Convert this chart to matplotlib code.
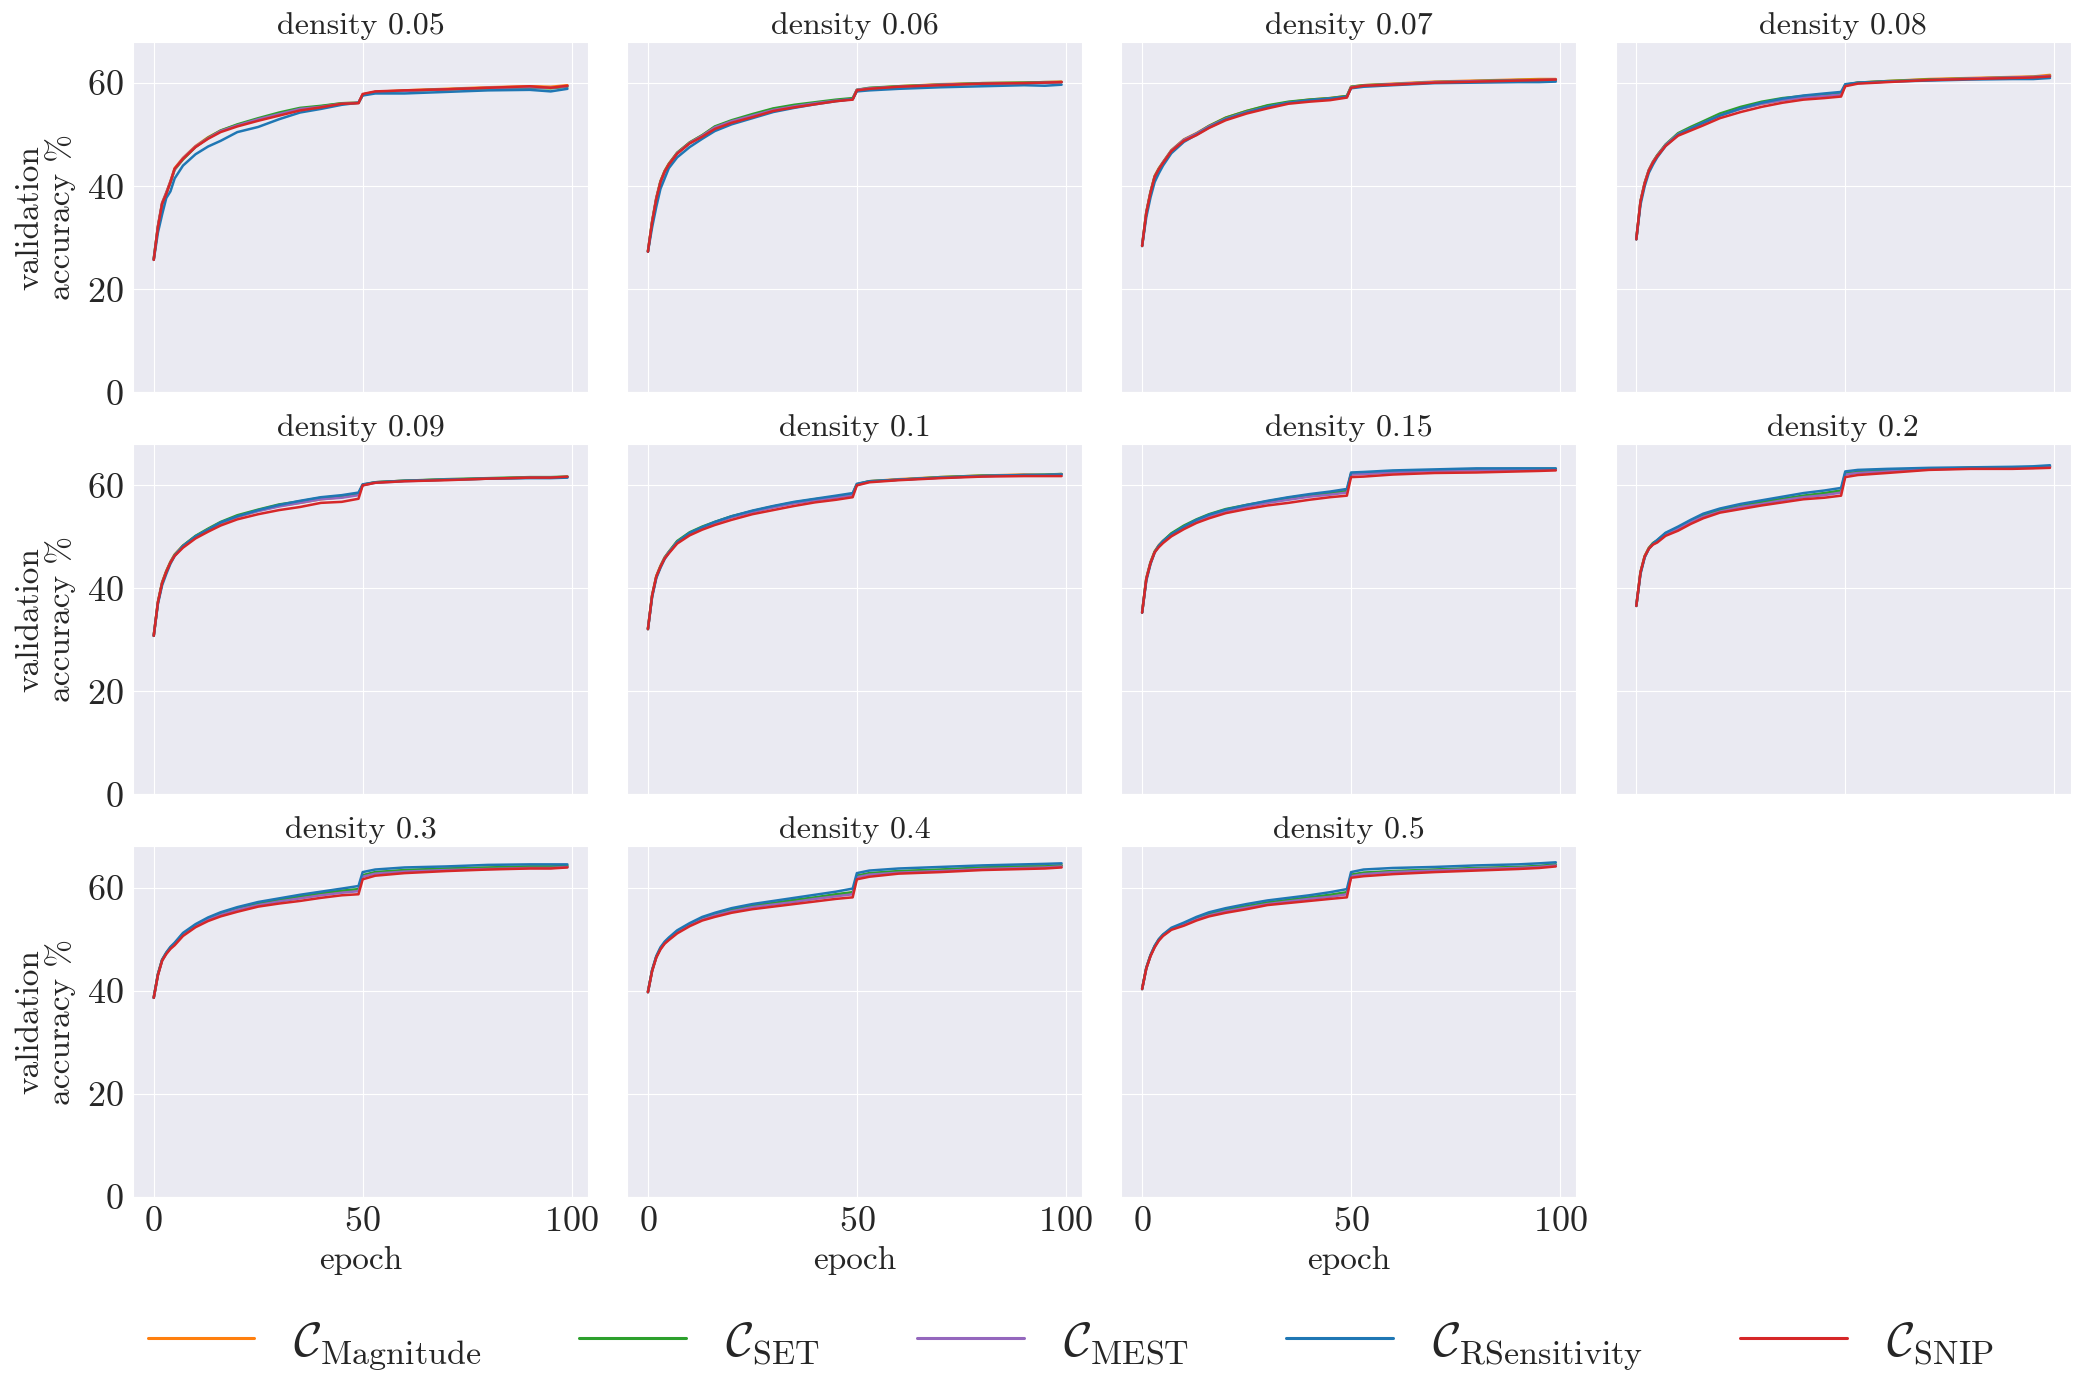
import matplotlib
matplotlib.use("Agg")
import matplotlib.pyplot as plt
import seaborn as sns
import numpy as np

# densities shown in the grid (one panel each)
densities = ['0.05', '0.06', '0.07', '0.08', '0.09', '0.1', '0.15', '0.2', '0.3', '0.4', '0.5']

epochs = [0, 1, 2, 3, 4, 5, 7, 10, 13, 16, 20, 25, 30, 35, 40, 45, 49, 50, 53, 60, 70, 80, 90, 95, 99]

# validation accuracy %, one row per density
magnitude = [
    [25.8, 32.3, 36.8, 38.8, 41.0, 43.5, 45.5, 47.8, 49.5, 50.8, 51.9, 53.0, 54.0, 55.0, 55.5, 56.1, 56.2, 57.8, 58.3, 58.6, 58.9, 59.2, 59.4, 59.3, 59.6],
    [27.4, 33.2, 37.8, 41.0, 43.0, 44.4, 46.5, 48.5, 49.9, 51.5, 52.6, 53.8, 55.0, 55.6, 56.1, 56.6, 56.9, 58.7, 59.0, 59.4, 59.8, 60.0, 60.1, 60.2, 60.3],
    [28.5, 35.0, 38.9, 42.0, 43.5, 44.7, 47.0, 49.1, 50.3, 51.7, 53.3, 54.6, 55.6, 56.3, 56.8, 57.1, 57.5, 59.3, 59.6, 59.9, 60.3, 60.5, 60.7, 60.8, 60.8],
    [29.8, 37.1, 40.7, 43.2, 44.8, 46.0, 48.0, 50.1, 51.3, 52.4, 53.8, 55.1, 56.0, 56.7, 57.3, 57.6, 57.8, 59.6, 60.1, 60.4, 60.8, 61.0, 61.2, 61.3, 61.6],
    [30.9, 37.4, 41.2, 43.4, 45.2, 46.6, 48.3, 50.1, 51.4, 52.6, 53.9, 55.1, 56.0, 56.6, 57.3, 57.7, 58.2, 60.1, 60.6, 60.9, 61.1, 61.3, 61.5, 61.5, 61.6],
    [32.2, 38.7, 42.4, 44.4, 46.0, 47.1, 49.1, 50.7, 51.8, 52.8, 53.9, 55.0, 55.9, 56.6, 57.3, 57.8, 58.3, 60.2, 60.8, 61.2, 61.6, 61.9, 62.1, 62.0, 62.2],
    [35.4, 42.0, 45.1, 47.2, 48.4, 49.2, 50.6, 52.0, 53.2, 54.2, 55.2, 56.0, 56.8, 57.4, 58.0, 58.4, 58.8, 62.2, 62.3, 62.6, 62.9, 63.0, 63.1, 63.1, 63.1],
    [36.7, 43.2, 46.3, 47.9, 48.8, 49.3, 50.6, 51.7, 53.0, 54.1, 55.1, 55.9, 56.6, 57.3, 57.9, 58.4, 58.9, 62.2, 62.5, 62.8, 63.2, 63.3, 63.4, 63.5, 63.6],
    [38.7, 43.2, 46.0, 47.3, 48.4, 49.1, 51.0, 52.7, 54.0, 54.9, 55.9, 56.8, 57.5, 58.1, 58.7, 59.2, 59.5, 62.3, 62.9, 63.3, 63.6, 63.8, 64.0, 64.0, 64.1],
    [39.8, 43.9, 46.6, 48.2, 49.3, 50.1, 51.5, 52.9, 54.0, 54.8, 55.6, 56.4, 56.9, 57.5, 58.0, 58.6, 59.0, 62.2, 62.7, 63.1, 63.4, 63.8, 64.0, 64.1, 64.3],
    [40.4, 44.4, 46.8, 48.6, 49.9, 50.8, 52.0, 52.9, 53.9, 54.8, 55.6, 56.3, 57.0, 57.5, 58.0, 58.4, 58.9, 62.4, 62.8, 63.1, 63.4, 63.7, 63.9, 64.1, 64.4],
]

set_vals = [
    [25.9, 32.1, 36.5, 38.6, 40.7, 43.2, 45.2, 47.6, 49.4, 50.8, 52.0, 53.2, 54.3, 55.2, 55.6, 56.1, 56.2, 57.7, 58.2, 58.5, 58.8, 59.0, 59.1, 59.0, 59.3],
    [27.3, 33.1, 37.6, 40.9, 42.9, 44.3, 46.5, 48.5, 49.9, 51.6, 52.8, 54.0, 55.1, 55.8, 56.3, 56.8, 57.1, 58.7, 59.1, 59.4, 59.7, 60.0, 60.1, 60.2, 60.2],
    [28.4, 34.9, 38.8, 41.9, 43.4, 44.6, 46.9, 49.0, 50.2, 51.7, 53.3, 54.6, 55.7, 56.4, 56.8, 57.1, 57.5, 59.3, 59.6, 59.8, 60.2, 60.4, 60.6, 60.6, 60.6],
    [29.7, 37.0, 40.6, 43.1, 44.7, 46.0, 48.1, 50.3, 51.5, 52.6, 54.1, 55.4, 56.4, 57.1, 57.5, 57.8, 58.0, 59.7, 60.1, 60.4, 60.7, 60.9, 61.1, 61.2, 61.4],
    [30.8, 37.3, 41.1, 43.3, 45.1, 46.5, 48.3, 50.2, 51.6, 52.9, 54.2, 55.3, 56.3, 56.9, 57.6, 57.9, 58.3, 60.1, 60.6, 60.9, 61.2, 61.4, 61.6, 61.6, 61.7],
    [32.1, 38.6, 42.3, 44.3, 46.0, 47.1, 49.2, 50.9, 52.0, 52.9, 54.0, 55.0, 55.9, 56.7, 57.3, 57.8, 58.3, 60.2, 60.8, 61.1, 61.6, 61.9, 62.0, 62.1, 62.2],
    [35.3, 41.9, 45.0, 47.1, 48.3, 49.2, 50.7, 52.2, 53.4, 54.4, 55.4, 56.2, 56.9, 57.6, 58.1, 58.5, 58.9, 62.2, 62.4, 62.7, 62.9, 63.1, 63.2, 63.2, 63.2],
    [36.6, 43.1, 46.2, 47.8, 48.8, 49.3, 50.7, 51.8, 53.1, 54.2, 55.2, 56.0, 56.8, 57.4, 58.0, 58.5, 59.0, 62.3, 62.6, 62.9, 63.2, 63.4, 63.5, 63.5, 63.7],
    [38.6, 43.1, 45.9, 47.3, 48.3, 49.1, 51.0, 52.7, 54.0, 55.0, 55.9, 56.9, 57.6, 58.3, 58.9, 59.4, 59.7, 62.4, 63.0, 63.4, 63.7, 63.9, 64.1, 64.1, 64.2],
    [39.7, 43.9, 46.5, 48.2, 49.3, 50.1, 51.5, 52.9, 54.0, 54.8, 55.7, 56.5, 57.0, 57.6, 58.1, 58.7, 59.1, 62.3, 62.8, 63.2, 63.5, 63.9, 64.1, 64.1, 64.3],
    [40.3, 44.4, 46.8, 48.6, 49.9, 50.8, 52.0, 53.0, 54.0, 54.9, 55.7, 56.4, 57.1, 57.6, 58.1, 58.6, 59.1, 62.5, 62.9, 63.2, 63.5, 63.8, 64.0, 64.2, 64.5],
]

mest = [
    [25.8, 32.2, 36.7, 38.7, 40.9, 43.3, 45.4, 47.7, 49.3, 50.7, 51.8, 53.0, 54.0, 55.0, 55.4, 56.0, 56.2, 57.8, 58.3, 58.5, 58.8, 59.1, 59.2, 59.1, 59.4],
    [27.3, 33.0, 37.6, 40.8, 42.8, 44.2, 46.4, 48.4, 49.8, 51.4, 52.6, 53.7, 54.8, 55.5, 56.1, 56.6, 56.9, 58.7, 59.0, 59.3, 59.7, 59.9, 60.0, 60.1, 60.2],
    [28.4, 34.8, 38.7, 41.8, 43.3, 44.6, 46.9, 49.0, 50.2, 51.6, 53.1, 54.4, 55.4, 56.2, 56.6, 57.0, 57.3, 59.2, 59.5, 59.8, 60.2, 60.4, 60.5, 60.6, 60.7],
    [29.7, 37.0, 40.6, 43.1, 44.7, 45.9, 48.0, 50.1, 51.2, 52.3, 53.7, 55.0, 56.0, 56.7, 57.2, 57.5, 57.8, 59.6, 60.0, 60.3, 60.6, 60.9, 61.1, 61.2, 61.4],
    [30.8, 37.2, 41.0, 43.2, 45.0, 46.4, 48.2, 50.0, 51.4, 52.7, 53.9, 55.0, 55.9, 56.6, 57.3, 57.6, 58.1, 60.0, 60.5, 60.8, 61.1, 61.3, 61.5, 61.5, 61.6],
    [32.1, 38.5, 42.2, 44.2, 45.9, 47.0, 49.0, 50.6, 51.7, 52.7, 53.8, 54.8, 55.7, 56.5, 57.1, 57.6, 58.1, 60.1, 60.7, 61.1, 61.5, 61.8, 62.0, 62.0, 62.1],
    [35.3, 41.8, 44.9, 47.0, 48.2, 49.0, 50.4, 51.9, 53.0, 54.0, 55.0, 55.8, 56.6, 57.2, 57.8, 58.2, 58.6, 62.1, 62.2, 62.5, 62.8, 62.9, 63.0, 63.0, 63.1],
    [36.6, 43.0, 46.1, 47.7, 48.6, 49.1, 50.5, 51.6, 52.9, 53.9, 54.9, 55.8, 56.4, 57.1, 57.7, 58.1, 58.6, 62.1, 62.4, 62.7, 63.1, 63.3, 63.4, 63.4, 63.6],
    [38.6, 43.0, 45.8, 47.2, 48.2, 49.0, 50.8, 52.5, 53.8, 54.7, 55.7, 56.6, 57.3, 57.9, 58.5, 59.0, 59.3, 62.1, 62.7, 63.1, 63.4, 63.6, 63.8, 63.8, 64.0],
    [39.7, 43.8, 46.5, 48.1, 49.2, 50.0, 51.3, 52.7, 53.8, 54.6, 55.4, 56.2, 56.7, 57.2, 57.8, 58.3, 58.7, 62.0, 62.5, 62.9, 63.2, 63.6, 63.8, 63.9, 64.1],
    [40.3, 44.3, 46.7, 48.5, 49.8, 50.7, 51.9, 52.8, 53.8, 54.6, 55.4, 56.1, 56.8, 57.3, 57.8, 58.2, 58.7, 62.2, 62.6, 63.0, 63.3, 63.6, 63.8, 64.0, 64.3],
]

rsensitivity = [
    [25.7, 31.0, 34.5, 37.7, 39.0, 41.5, 44.0, 46.2, 47.7, 48.8, 50.5, 51.5, 53.0, 54.3, 55.0, 55.8, 56.2, 57.6, 58.0, 58.0, 58.3, 58.6, 58.7, 58.4, 58.9],
    [27.3, 32.0, 36.0, 39.5, 41.5, 43.5, 45.6, 47.6, 49.2, 50.7, 52.0, 53.2, 54.4, 55.2, 55.9, 56.5, 56.9, 58.4, 58.6, 58.9, 59.2, 59.4, 59.6, 59.5, 59.7],
    [28.4, 34.0, 37.8, 40.8, 42.5, 44.0, 46.4, 48.6, 50.0, 51.4, 53.0, 54.3, 55.4, 56.2, 56.7, 57.0, 57.4, 59.0, 59.3, 59.6, 60.0, 60.1, 60.2, 60.2, 60.3],
    [29.7, 36.4, 40.0, 42.6, 44.2, 45.6, 47.8, 50.0, 51.2, 52.3, 53.7, 55.1, 56.2, 57.0, 57.6, 58.0, 58.3, 59.8, 60.1, 60.3, 60.5, 60.7, 60.8, 60.8, 61.0],
    [30.8, 37.0, 40.6, 42.8, 44.8, 46.3, 48.2, 50.1, 51.4, 52.8, 54.0, 55.2, 56.2, 57.0, 57.7, 58.1, 58.6, 60.2, 60.6, 60.9, 61.1, 61.3, 61.4, 61.4, 61.5],
    [32.1, 38.3, 42.0, 44.0, 45.7, 46.9, 49.0, 50.8, 51.9, 52.9, 54.0, 55.1, 56.0, 56.8, 57.4, 58.0, 58.5, 60.3, 60.8, 61.1, 61.5, 61.8, 62.0, 62.0, 62.1],
    [35.3, 41.5, 44.7, 47.0, 48.3, 49.2, 50.5, 52.0, 53.3, 54.3, 55.3, 56.2, 57.0, 57.7, 58.3, 58.8, 59.3, 62.5, 62.6, 62.9, 63.1, 63.3, 63.3, 63.3, 63.3],
    [36.6, 42.8, 46.0, 47.7, 48.7, 49.4, 50.8, 52.0, 53.3, 54.5, 55.5, 56.4, 57.1, 57.8, 58.5, 59.0, 59.5, 62.7, 63.0, 63.2, 63.4, 63.5, 63.6, 63.7, 63.9],
    [38.6, 43.2, 46.0, 47.4, 48.5, 49.3, 51.2, 52.9, 54.2, 55.2, 56.2, 57.2, 57.9, 58.6, 59.2, 59.8, 60.3, 63.0, 63.5, 63.9, 64.1, 64.4, 64.5, 64.5, 64.5],
    [39.7, 44.0, 46.7, 48.4, 49.5, 50.3, 51.7, 53.1, 54.3, 55.1, 56.0, 56.8, 57.4, 58.0, 58.6, 59.2, 59.8, 62.8, 63.3, 63.7, 64.0, 64.3, 64.5, 64.6, 64.7],
    [40.3, 44.4, 46.9, 48.7, 50.0, 50.9, 52.2, 53.2, 54.3, 55.2, 56.0, 56.8, 57.5, 58.0, 58.5, 59.1, 59.7, 63.0, 63.5, 63.8, 64.0, 64.3, 64.5, 64.7, 64.9],
]

snip = [
    [25.7, 32.0, 36.6, 38.5, 40.8, 43.4, 45.3, 47.6, 49.2, 50.5, 51.6, 52.7, 53.7, 54.7, 55.3, 56.0, 56.1, 57.9, 58.4, 58.6, 58.8, 59.1, 59.4, 59.1, 59.5],
    [27.3, 33.0, 37.5, 40.8, 42.8, 44.2, 46.3, 48.3, 49.6, 51.1, 52.3, 53.4, 54.6, 55.3, 55.9, 56.5, 56.8, 58.6, 58.9, 59.3, 59.6, 59.9, 60.0, 60.1, 60.2],
    [28.4, 34.8, 38.7, 41.8, 43.3, 44.5, 46.8, 48.8, 49.9, 51.3, 52.8, 54.1, 55.1, 56.0, 56.4, 56.7, 57.2, 59.1, 59.5, 59.7, 60.1, 60.3, 60.5, 60.6, 60.7],
    [29.7, 37.0, 40.5, 43.0, 44.6, 45.8, 47.8, 49.8, 50.8, 51.8, 53.2, 54.4, 55.4, 56.2, 56.8, 57.1, 57.4, 59.4, 59.9, 60.2, 60.6, 60.8, 61.0, 61.1, 61.3],
    [30.8, 37.3, 41.0, 43.2, 45.0, 46.3, 47.9, 49.7, 51.0, 52.2, 53.4, 54.4, 55.2, 55.8, 56.6, 56.8, 57.4, 60.0, 60.5, 60.8, 61.0, 61.3, 61.5, 61.5, 61.7],
    [32.1, 38.6, 42.3, 44.2, 45.8, 46.8, 48.7, 50.3, 51.4, 52.3, 53.3, 54.4, 55.2, 56.0, 56.7, 57.2, 57.7, 60.0, 60.6, 61.0, 61.4, 61.7, 61.8, 61.8, 61.8],
    [35.3, 41.8, 44.9, 47.0, 48.0, 48.8, 50.1, 51.5, 52.7, 53.6, 54.6, 55.4, 56.1, 56.6, 57.2, 57.7, 58.0, 61.6, 61.7, 62.1, 62.4, 62.5, 62.7, 62.8, 62.9],
    [36.6, 43.1, 46.2, 47.7, 48.5, 48.9, 50.2, 51.2, 52.5, 53.6, 54.7, 55.4, 56.1, 56.7, 57.3, 57.6, 58.0, 61.6, 62.0, 62.4, 63.0, 63.2, 63.2, 63.3, 63.4],
    [38.6, 43.0, 45.8, 47.1, 48.1, 48.8, 50.6, 52.3, 53.5, 54.4, 55.3, 56.3, 56.9, 57.4, 58.0, 58.5, 58.7, 61.6, 62.3, 62.8, 63.2, 63.5, 63.7, 63.7, 63.9],
    [39.7, 43.8, 46.4, 48.0, 49.1, 49.8, 51.1, 52.5, 53.6, 54.3, 55.1, 55.8, 56.3, 56.8, 57.3, 57.8, 58.1, 61.6, 62.1, 62.7, 63.0, 63.4, 63.6, 63.7, 63.9],
    [40.3, 44.3, 46.7, 48.4, 49.7, 50.6, 51.8, 52.6, 53.6, 54.4, 55.1, 55.8, 56.6, 57.0, 57.4, 57.8, 58.1, 61.9, 62.2, 62.6, 63.0, 63.3, 63.6, 63.8, 64.1],
]

series = [
    (magnitude, r'$\mathcal{C}_{\mathrm{Magnitude}}$', '#ff7f0e'),
    (set_vals, r'$\mathcal{C}_{\mathrm{SET}}$', '#2ca02c'),
    (mest, r'$\mathcal{C}_{\mathrm{MEST}}$', '#9467bd'),
    (rsensitivity, r'$\mathcal{C}_{\mathrm{RSensitivity}}$', '#1f77b4'),
    (snip, r'$\mathcal{C}_{\mathrm{SNIP}}$', '#d62728'),
]

sns.set_style('darkgrid')
plt.rcParams['font.family'] = ['cmr10', 'DejaVu Serif']
plt.rcParams['mathtext.fontset'] = 'cm'
plt.rcParams['axes.formatter.use_mathtext'] = True

fig, axs = plt.subplots(3, 4, figsize=(20.79, 13.98), dpi=100, sharex=True, sharey=True)
fig.subplots_adjust(left=0.064, right=0.996, top=0.970, bottom=0.144, wspace=0.086, hspace=0.148)

for i, d in enumerate(densities):
    ax = axs.flat[i]
    for vals, label, color in series:
        ax.plot(epochs, vals[i], color=color, lw=1.8, label=label)
    ax.set_title('density ' + d, fontsize=23, pad=6)
    ax.set_ylim(0, 68)
    ax.set_yticks([0, 20, 40, 60])
    ax.set_xticks([0, 50, 100])
    ax.tick_params(labelsize=26)

axs[2, 3].remove()
axs[1, 3].tick_params(labelbottom=False)

for r in range(3):
    axs[r, 0].set_ylabel('validation\naccuracy %', fontsize=24, linespacing=1.0, labelpad=8)
for c in range(3):
    axs[2, c].set_xlabel('epoch', fontsize=24, labelpad=6)
    axs[2, c].tick_params(labelbottom=True)

handles, labels = axs[0, 0].get_legend_handles_labels()
leg = fig.legend(handles, labels, loc='lower center', bbox_to_anchor=(0.515, -0.012), ncol=5,
                 frameon=False, fontsize=35, handlelength=2.2, handletextpad=0.8, columnspacing=2.0)
for h in leg.get_lines():
    h.set_linewidth(2.2)

fig.savefig('out.png', dpi=100)
